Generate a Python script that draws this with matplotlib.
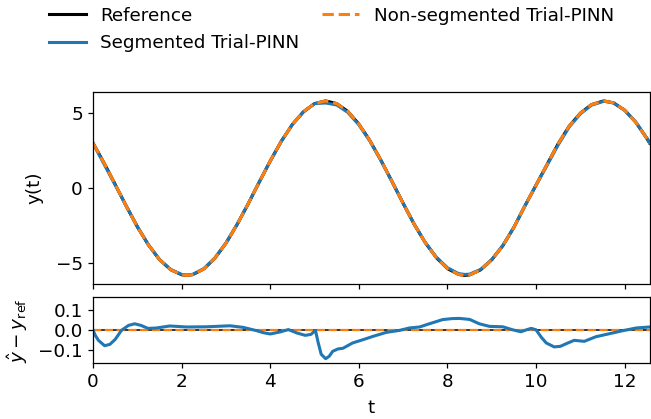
import numpy as np
import matplotlib
matplotlib.use("Agg")
import matplotlib.pyplot as plt

plt.rcParams['font.size'] = 13.2
plt.rcParams['axes.linewidth'] = 0.9
plt.rcParams['xtick.major.width'] = 0.9
plt.rcParams['ytick.major.width'] = 0.9
plt.rcParams['xtick.major.size'] = 3.85
plt.rcParams['ytick.major.size'] = 3.85

# Solutions sampled on t grid ###################
t = [0.0, 0.25, 0.5, 0.75, 1.0, 1.25, 1.5, 1.75, 2.0, 2.11, 2.25, 2.5,
     2.75, 3.0, 3.25, 3.5, 3.75, 4.0, 4.25, 4.5, 4.75, 5.0, 5.25, 5.5,
     5.75, 6.0, 6.25, 6.5, 6.75, 7.0, 7.25, 7.5, 7.75, 8.0, 8.25, 8.39,
     8.5, 8.75, 9.0, 9.25, 9.5, 9.75, 10.0, 10.25, 10.5, 10.75, 11.0,
     11.25, 11.53, 11.75, 12.0, 12.25, 12.5, 12.566]

y_ref = [3.00, 1.67, 0.24, -1.21, -2.59, -3.80, -4.78, -5.45, -5.79, -5.83,
         -5.78, -5.40, -4.68, -3.68, -2.44, -1.06, 0.40, 1.82, 3.14, 4.26,
         5.11, 5.65, 5.83, 5.65, 5.13, 4.28, 3.17, 1.85, 0.43, -1.02, -2.42,
         -3.65, -4.65, -5.38, -5.77, -5.83, -5.80, -5.46, -4.79, -3.85,
         -2.62, -1.18, 0.20, 1.59, 2.97, 4.15, 5.01, 5.58, 5.83, 5.70, 5.21,
         4.41, 3.33, 3.00]

y_seg = [3.00, 1.59, 0.20, -1.20, -2.56, -3.79, -4.77, -5.43, -5.77, -5.81,
         -5.76, -5.38, -4.66, -3.66, -2.42, -1.05, 0.40, 1.80, 3.13, 4.26,
         5.09, 5.65, 5.69, 5.56, 5.06, 4.23, 3.14, 1.84, 0.43, -1.01, -2.41,
         -3.63, -4.61, -5.32, -5.71, -5.77, -5.75, -5.43, -4.77, -3.83,
         -2.62, -1.18, 0.20, 1.53, 2.89, 4.09, 4.96, 5.54, 5.81, 5.69, 5.21,
         4.42, 3.35, 3.02]

y_nonseg = list(y_ref)

# Error of segmented solution (denser read-off) ###
t_err = [0.0, 0.05, 0.12, 0.26, 0.38, 0.5, 0.64, 0.8, 0.94, 1.08, 1.24,
         1.43, 1.73, 2.11, 2.56, 3.09, 3.39, 3.70, 3.85, 4.0, 4.22, 4.41,
         4.6, 4.79, 4.92, 5.02, 5.08, 5.15, 5.25, 5.33, 5.41, 5.53, 5.64,
         5.86, 6.09, 6.32, 6.62, 6.92, 7.14, 7.37, 7.59, 7.89, 8.1, 8.27,
         8.50, 8.72, 8.95, 9.25, 9.47, 9.66, 9.8, 9.89, 10.0, 10.12, 10.23,
         10.41, 10.55, 10.68, 10.86, 11.09, 11.35, 11.65, 11.95, 12.26,
         12.566]
err_seg = [0.0, -0.025, -0.05, -0.077, -0.07, -0.045, 0.0, 0.025, 0.033,
           0.025, 0.01, 0.012, 0.022, 0.017, 0.018, 0.023, 0.015, -0.002,
           -0.012, -0.018, -0.008, 0.004, -0.013, -0.025, -0.02, 0.0,
           -0.06, -0.12, -0.142, -0.13, -0.105, -0.093, -0.09, -0.063,
           -0.047, -0.030, -0.010, 0.0, 0.012, 0.017, 0.033, 0.054, 0.059,
           0.060, 0.055, 0.033, 0.020, 0.018, 0.003, -0.007, 0.004, 0.01,
           0.003, -0.035, -0.063, -0.083, -0.08, -0.067, -0.05, -0.055,
           -0.032, -0.017, -0.002, 0.012, 0.017]

fig = plt.figure(figsize=(6.51, 4.19), dpi=100)
ax = fig.add_axes([0.143, 0.322, 0.855, 0.458])
ax2 = fig.add_axes([0.143, 0.134, 0.855, 0.156], sharex=ax)

ax.plot(t, y_ref, color='black', linewidth=2.2, label='Reference')
ax.plot(t, y_seg, color='tab:blue', linewidth=2.2, label='Segmented Trial-PINN')
ax.plot(t, y_nonseg, color='tab:orange', linestyle='--', linewidth=2.2,
        label='Non-segmented Trial-PINN')
ax.set_ylabel('y(t)', labelpad=9)
ax.set_xlim(0, 12.566)
ax.tick_params(labelbottom=False)

ax2.axhline(0.0, color='black', linewidth=1.1)
ax2.plot(t, np.array(y_nonseg) - np.array(y_ref), color='tab:orange',
         linestyle='--', linewidth=1.6)
ax2.plot(t_err, err_seg, color='tab:blue', linewidth=2.2)
ax2.set_ylim(-0.163, 0.165)
ax2.set_yticks([-0.1, 0.0, 0.1])
ax2.set_xticks([0, 2, 4, 6, 8, 10, 12])
ax2.set_xlabel('t', labelpad=6)
ax2.set_ylabel(r'$\hat{y} - y_{\mathrm{ref}}$', labelpad=6)

fig.legend(loc='upper left', bbox_to_anchor=(0.05, 1.023), ncol=2,
           frameon=False, columnspacing=1.25)

fig.savefig('out.png', dpi=100)
